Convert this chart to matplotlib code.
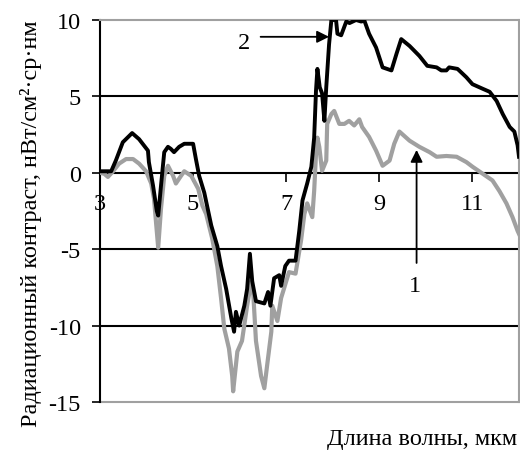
import matplotlib
matplotlib.use("Agg")
import matplotlib.pyplot as plt
import numpy as np

plt.rcParams['font.family'] = ['Liberation Serif', 'DejaVu Serif']

# Curve 2 (black)
x2 = [3.0, 3.24, 3.34, 3.49, 3.69, 3.84, 4.03, 4.05, 4.14, 4.22, 4.25, 4.31, 4.38, 4.46, 4.52,
      4.59, 4.70, 4.81, 5.0, 5.06, 5.13, 5.24, 5.39, 5.52, 5.60, 5.71, 5.82, 5.88, 5.92, 5.99,
      6.10, 6.16, 6.22, 6.27, 6.35, 6.53, 6.61, 6.66, 6.74, 6.85, 6.89, 6.98, 7.06, 7.20, 7.28,
      7.35, 7.45, 7.54, 7.60, 7.64, 7.67, 7.72, 7.77, 7.82, 7.86, 7.92, 7.97, 8.07, 8.10, 8.18,
      8.29, 8.36, 8.50, 8.61, 8.68, 8.78, 8.93, 9.07, 9.26, 9.37, 9.47, 9.65, 9.86, 10.03, 10.23,
      10.33, 10.44, 10.50, 10.68, 10.87, 11.0, 11.22, 11.37, 11.52, 11.65, 11.80, 11.90, 11.97, 12.0]
y2 = [0.1, 0.1, 0.8, 2.0, 2.6, 2.2, 1.45, 0.7, -0.85, -2.5, -2.8, -0.85, 1.35, 1.7, 1.57,
      1.35, 1.7, 1.9, 1.9, 0.9, -0.2, -1.3, -3.45, -4.8, -6.1, -7.6, -9.5, -10.4, -9.1, -10.0,
      -8.7, -7.6, -5.3, -7.1, -8.4, -8.55, -7.8, -8.7, -6.9, -6.7, -7.4, -6.1, -5.75, -5.75, -3.8,
      -1.8, -0.7, 0.4, 2.3, 5.4, 6.8, 5.6, 5.2, 3.4, 5.6, 8.4, 10.0, 10.0, 9.1, 9.0,
      9.9, 9.8, 10.0, 9.9, 9.95, 9.1, 8.2, 6.9, 6.7, 7.8, 8.75, 8.3, 7.65, 7.0, 6.9,
      6.7, 6.7, 6.9, 6.8, 6.25, 5.8, 5.5, 5.3, 4.7, 3.85, 3.0, 2.7, 1.8, 1.05]

# Curve 1 (grey)
x1 = [3.0, 3.09, 3.17, 3.28, 3.41, 3.56, 3.71, 3.84, 3.99, 4.10, 4.16, 4.25, 4.31, 4.38, 4.46,
      4.57, 4.63, 4.74, 4.81, 4.96, 5.11, 5.20, 5.28, 5.41, 5.52, 5.60, 5.67, 5.77, 5.84, 5.86,
      5.95, 6.05, 6.16, 6.25, 6.29, 6.35, 6.46, 6.53, 6.59, 6.68, 6.70, 6.81, 6.89, 7.0, 7.06,
      7.20, 7.32, 7.39, 7.45, 7.56, 7.60, 7.64, 7.67, 7.71, 7.77, 7.86, 7.88, 7.97, 8.03, 8.14,
      8.25, 8.35, 8.46, 8.57, 8.63, 8.78, 8.93, 9.07, 9.22, 9.32, 9.43, 9.65, 9.86, 10.08, 10.23,
      10.44, 10.66, 10.87, 11.0, 11.22, 11.43, 11.58, 11.73, 11.86, 11.97, 12.0]
y1 = [0.0, -0.06, -0.27, 0.1, 0.6, 0.9, 0.9, 0.6, 0.1, -0.7, -1.7, -4.9, -2.35, -0.2, 0.46,
      -0.2, -0.7, -0.2, 0.1, -0.2, -1.05, -2.15, -2.7, -4.3, -6.1, -8.2, -10.2, -11.5, -13.3, -14.3,
      -11.7, -11.0, -8.7, -7.1, -7.8, -11.0, -13.3, -14.1, -12.6, -10.4, -8.7, -9.7, -8.2, -7.1, -6.5,
      -6.6, -4.4, -2.7, -2.0, -2.9, -1.2, 1.25, 2.3, 1.7, 0.13, 0.8, 3.2, 3.85, 4.05, 3.2,
      3.2, 3.4, 3.1, 3.5, 3.0, 2.35, 1.45, 0.46, 0.8, 1.9, 2.7, 2.1, 1.7, 1.35, 1.05,
      1.1, 1.05, 0.7, 0.4, -0.06, -0.5, -1.2, -2.0, -2.9, -3.8, -4.0]

x_ticks = [3, 5, 7, 9, 11]
y_ticks = [-15, -10, -5, 0, 5, 10]
y_tick_labels = ['-15', '-10', '-5', '0', '5', '10']

fig = plt.figure(figsize=(5.2, 4.52), dpi=100)
ax = fig.add_axes([100/520, 1 - 403/452, 419/520, (403 - 21)/452])

ax.set_xlim(3, 12)
ax.set_ylim(-15, 10)

# gridlines
for yv in [5, -5, -10]:
    ax.axhline(yv, color='black', lw=1.5, zorder=1)
ax.axhline(-15, color='#a0a0a0', lw=1.5, zorder=1, clip_on=False)

ax.plot(x1, y1, color='#a0a0a0', lw=3.0, zorder=3)
ax.plot(x2, y2, color='black', lw=2.8, zorder=4)

for s in ['top', 'right']:
    ax.spines[s].set_color('#a0a0a0')
    ax.spines[s].set_linewidth(1.5)
ax.spines['left'].set_color('black')
ax.spines['left'].set_linewidth(1.5)
ax.spines['bottom'].set_position(('data', 0))
ax.spines['bottom'].set_color('black')
ax.spines['bottom'].set_linewidth(1.5)
ax.spines['bottom'].set_zorder(2)

ax.set_xticks(x_ticks)
ax.set_xticklabels([str(v) for v in x_ticks])
ax.set_yticks(y_ticks)
ax.set_yticklabels(y_tick_labels)
ax.tick_params(axis='x', direction='out', length=6.5, width=1.2, labelsize=17.5, pad=8)
ax.tick_params(axis='y', direction='out', length=5.8, width=1.2, labelsize=17.5, pad=8)

fig.text(517/520, 1 - 440/452, 'Длина волны, мкм', ha='right', va='center', fontsize=17.5)
fig.text(31/520, 1 - 224/452, 'Радиационный контраст, нВт/см²·ср·нм', ha='center', va='center',
         rotation=90, fontsize=17.5)

ax.annotate('', xy=(7.92, 8.9), xytext=(6.45, 8.9),
            arrowprops=dict(arrowstyle='-|>', color='black', lw=1.3, mutation_scale=18,
                            shrinkA=0, shrinkB=0))
ax.text(6.1, 8.55, '2', ha='center', va='center', fontsize=17.5)

ax.annotate('', xy=(9.8, 1.5), xytext=(9.8, -5.9),
            arrowprops=dict(arrowstyle='-|>', color='black', lw=1.3, mutation_scale=18,
                            shrinkA=0, shrinkB=0))
ax.text(9.76, -7.4, '1', ha='center', va='center', fontsize=17.5)

fig.savefig('out.png', dpi=100)
